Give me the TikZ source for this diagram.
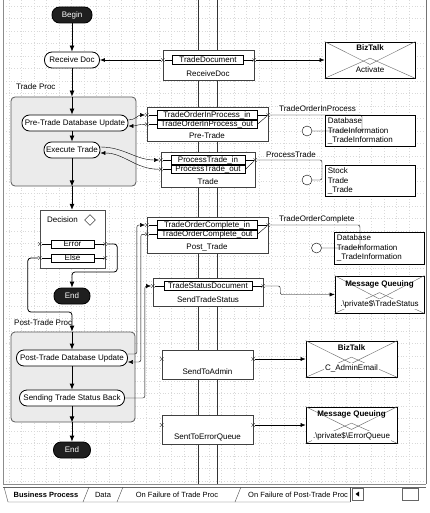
\documentclass[tikz,border=0pt]{standalone}
\usepackage{fontspec}
\setmainfont{Liberation Sans}
\usetikzlibrary{arrows.meta,shapes.geometric,shapes.misc,calc}
\newcommand{\dfont}{\fontsize{8}{9.5}\selectfont}
\newcommand{\tabfont}{\fontsize{7.5}{9}\selectfont}
\tikzset{
  act/.style={draw,thick,rounded corners=7.5pt,fill=white,minimum height=16pt,inner sep=0pt},
  term/.style={act,fill=black!88,text=white},
  grp/.style={draw=black!65,fill=black!8,rounded corners=4pt,thick,inner sep=0pt},
  shapebox/.style={draw=black!75,fill=white,inner sep=0pt},
  portrow/.style={draw,thick,fill=white,inner sep=0pt,minimum height=8.5pt},
  caserow/.style={draw,fill=white,inner sep=0pt,minimum height=8pt},
  portx/.style={cross out,draw=black!80,inner sep=0pt,minimum size=3pt},
  flowarr/.style={thick,-{Latex[length=6pt,width=5pt]}},
  linkarr/.style={-{Latex[length=5pt,width=4pt]}},
  txt/.style={inner sep=0pt},
  envbox/.style={draw,thick,fill=white,inner sep=0pt},
  envline/.style={black!60},
  lolly/.style={circle,draw,fill=white,minimum size=10pt,inner sep=0pt},
  gridline/.style={black!15,dash pattern=on 0.8pt off 2pt},
}
\begin{document}
\begin{tikzpicture}[x=1pt,y=-1pt,font=\dfont]
\useasboundingbox (0,0) rectangle (430,513);
\foreach \gx in {9,21.5,...,420} \draw[gridline] (\gx,0) -- (\gx,484);
\foreach \gy in {6,18.5,...,484} \draw[gridline] (3,\gy) -- (426,\gy);
\draw[black!45] (3,0) -- (3,484) -- (426,484);
\draw[black!55,thick] (426,0) -- (426,484);
\draw[black!80] (198,0) -- (198,484);
\draw[black!80] (217,0) -- (217,484);

\node[term,minimum width=40pt] (begin) at (72,15) {Begin};
\node[act,minimum width=55pt] (recv) at (72,60) {Receive Doc};
\node[txt,anchor=west] (tradeLbl) at (16,87) {Trade Proc};
\node[grp,minimum width=125pt,minimum height=89pt] (tradeGrp) at (73.5,141.5) {};
\node[act,minimum width=106pt] (preDb) at (75,123) {Pre-Trade Database Update};
\node[act,minimum width=56pt] (exec) at (72,150) {Execute Trade};
\node[shapebox,draw=black!70,minimum width=65pt,minimum height=58pt] (dec) at (72.5,239) {};
\node[txt,anchor=west] (decLbl) at (47,220) {Decision};
\node[diamond,draw,inner sep=0pt,minimum size=11pt] (decDia) at (90,220) {};
\node[caserow,minimum width=43pt] (err) at (72.5,244) {Error};
\node[caserow,minimum width=43pt] (els) at (72.5,258) {Else};
\foreach \rw in {err,els} {
  \node[portx] (\rw L) at (dec.west |- \rw) {};
  \node[portx] (\rw R) at (dec.east |- \rw) {};
  \draw (\rw L) -- (\rw) -- (\rw R);
}
\node[term,minimum width=36pt] (end1) at (72,296) {End};
\node[txt,anchor=west] (postLbl) at (14,323) {Post-Trade Proc};
\node[grp,minimum width=124pt,minimum height=90pt] (postGrp) at (73,377) {};
\node[act,minimum width=111pt] (postDb) at (72,358) {Post-Trade Database Update};
\node[act,minimum width=105pt] (sending) at (72,398) {Sending Trade Status Back};
\node[term,minimum width=37pt] (end2) at (72,450) {End};

\draw[flowarr] (begin) -- (recv);
\draw[flowarr] (recv) -- (recv |- tradeGrp.north);
\draw[flowarr] (recv |- tradeGrp.north) -- (recv |- preDb.north);
\draw[flowarr] (exec |- preDb.south) -- (exec);
\draw[flowarr] (exec) -- (exec |- tradeGrp.south);
\draw[flowarr] (exec |- tradeGrp.south) -- (exec |- dec.north);
\draw[flowarr,rounded corners=3pt] (errR) -- ++(12,0) -- ++(0,28) -| (end1);
\draw[flowarr,rounded corners=3pt] (elsL) -- ++(-12,0) -- ++(0,54) -| (end1 |- postGrp.north);
\draw[flowarr] (end1 |- postGrp.north) -- (postDb);
\draw[flowarr] (postDb) -- (sending);
\draw[flowarr] (sending) -- (sending |- postGrp.south);
\draw[flowarr] (sending |- postGrp.south) -- (end2);

\node[shapebox,minimum width=91pt,minimum height=30pt] (recvShp) at (208.5,65) {};
\node[portrow,minimum width=71pt] (tdoc) at (208,60) {TradeDocument};
\node[txt] (recvShpLbl) at (208,74) {ReceiveDoc};
\node[portx] (tdocL) at (recvShp.west |- tdoc) {};
\node[portx] (tdocR) at (recvShp.east |- tdoc) {};
\draw (tdocL) -- (tdoc) -- (tdocR);

\node[shapebox,minimum width=121pt,minimum height=34pt] (preShp) at (207.5,124) {};
\node[portrow,minimum width=100pt] (topIn) at (207,115) {TradeOrderInProcess\_in};
\node[portrow,minimum width=100pt,anchor=north] (topOut) at (topIn.south) {TradeOrderInProcess\_out};
\node[txt] (preShpLbl) at (207,136) {Pre-Trade};
\node[portx] (topInL) at (preShp.west |- topIn) {};
\node[portx] (topOutL) at (preShp.west |- topOut) {};
\node[portx] (topR) at (preShp.east |- topIn) {};
\draw (topInL) -- (topIn) -- (topR);
\draw (topOutL) -- (topOut);
\draw (topOut.east) -- (topR);

\node[shapebox,minimum width=94pt,minimum height=35pt] (tradeShp) at (208,169.5) {};
\node[portrow,minimum width=74pt] (ptIn) at (208,160) {ProcessTrade\_in};
\node[portrow,minimum width=74pt,anchor=north] (ptOut) at (ptIn.south) {ProcessTrade\_out};
\node[txt] (tradeShpLbl) at (208,182) {Trade};
\node[portx] (ptInL) at (tradeShp.west |- ptIn) {};
\node[portx] (ptOutL) at (tradeShp.west |- ptOut) {};
\node[portx] (ptR) at (tradeShp.east |- ptIn) {};
\draw (ptInL) -- (ptIn) -- (ptR);
\draw (ptOutL) -- (ptOut);
\draw (ptOut.east) -- (ptR);

\node[shapebox,minimum width=121pt,minimum height=36pt] (postShp) at (207.5,235) {};
\node[portrow,minimum width=100pt] (tocIn) at (207,225) {TradeOrderComplete\_in};
\node[portrow,minimum width=100pt,anchor=north] (tocOut) at (tocIn.south) {TradeOrderComplete\_out};
\node[txt] (postShpLbl) at (207,247) {Post\_Trade};
\node[portx] (tocInL) at (postShp.west |- tocIn) {};
\node[portx] (tocOutL) at (postShp.west |- tocOut) {};
\node[portx] (tocR) at (postShp.east |- tocIn) {};
\draw (tocInL) -- (tocIn) -- (tocR);
\draw (tocOutL) -- (tocOut);
\draw (tocOut.east) -- (tocR);

\node[shapebox,minimum width=110pt,minimum height=28pt] (sendShp) at (208,292) {};
\node[portrow,minimum width=88pt,minimum height=9pt] (tsDoc) at (208,286) {TradeStatusDocument};
\node[txt] (sendShpLbl) at (208,300) {SendTradeStatus};
\node[portx] (tsL) at (sendShp.west |- tsDoc) {};
\node[portx] (tsR) at (sendShp.east |- tsDoc) {};
\draw (tsL) -- (tsDoc) -- (tsR);

\node[shapebox,minimum width=91pt,minimum height=29pt] (adminShp) at (207.5,364.5) {};
\node[txt] (adminShpLbl) at (207.5,372) {SendToAdmin};
\node[portx] (adminL) at ([yshift=5.5pt]adminShp.west) {};
\node[portx] (adminR) at ([yshift=5.5pt]adminShp.east) {};

\node[shapebox,minimum width=91pt,minimum height=29pt] (errShp) at (207.5,429.5) {};
\node[txt] (errShpLbl) at (207.5,437) {SentToErrorQueue};
\node[portx] (errShpL) at ([yshift=4.5pt]errShp.west) {};
\node[portx] (errShpR) at ([yshift=4.5pt]errShp.east) {};

\draw[linkarr,thick] (tdocL) -- (recv);
\draw[linkarr] ([yshift=3pt]preDb.east) to[out=0,in=180] (topInL);
\draw[linkarr] (topOutL) to[out=180,in=0] ([yshift=-3pt]preDb.east);
\draw[linkarr] ([yshift=3pt]exec.east) to[out=0,in=180] (ptInL);
\draw[linkarr] (ptOutL) to[out=180,in=0] ([yshift=-3pt]exec.east);
\draw[linkarr,rounded corners=2pt] ([yshift=4pt]postDb.east) -- ++(9,0) |- (tocInL);
\draw[linkarr,rounded corners=2pt] (tocOutL) -- ++(-6,0) |- ([yshift=-4pt]postDb.east);
\draw[linkarr,rounded corners=2pt] (sending.east) -- ++(20,0) |- (tsL);

\node[envbox,minimum width=90pt,minimum height=36pt] (bzA) at (370,60) {};
\node[envbox,minimum width=89pt,minimum height=37pt] (mqA) at (379.5,294.5) {};
\node[envbox,minimum width=91pt,minimum height=36pt] (bzB) at (351.5,359) {};
\node[envbox,minimum width=91pt,minimum height=36pt] (mqB) at (351.5,425) {};
\foreach \b in {bzA,mqA,bzB,mqB} {
  \draw[envline] (\b.north west) -- ($(\b.north)!0.62!(\b.south)$) -- (\b.north east);
  \draw[envline] (\b.south west) -- ($(\b.north)!0.45!(\b.south)$) -- (\b.south east);
}
\node[txt,font=\dfont\bfseries] (bzATop) at (370,48) {BizTalk};
\node[txt,fill=white,inner sep=1pt] (bzAOp) at (370,70) {Activate};
\node[txt,font=\dfont\bfseries] (mqATop) at (379.5,284) {Message Queuing};
\node[txt,fill=white,inner sep=1pt] (mqAOp) at (379.5,304) {.\textbackslash private\$\textbackslash TradeStatus};
\node[txt,font=\dfont\bfseries] (bzBTop) at (351.5,348) {BizTalk};
\node[txt,fill=white,inner sep=1pt] (bzBOp) at (351.5,368) {C\_AdminEmail};
\node[txt,font=\dfont\bfseries] (mqBTop) at (351.5,414) {Message Queuing};
\node[txt,fill=white,inner sep=1pt] (mqBOp) at (351.5,436) {.\textbackslash private\$\textbackslash ErrorQueue};

\node[shapebox,draw=black,thick,minimum width=90pt,minimum height=31pt] (dbA) at (370,130.5) {};
\node[txt,anchor=north west,align=left] (dbATxt) at ([xshift=3pt,yshift=-3pt]dbA.north west) {Database\\TradeInformation\\\_TradeInformation};
\node[lolly] (dbAPin) at (307,131) {};
\node[shapebox,draw=black,thick,minimum width=90pt,minimum height=31pt] (stk) at (370,180.5) {};
\node[txt,anchor=north west,align=left] (stkTxt) at ([xshift=3pt,yshift=-3pt]stk.north west) {Stock\\Trade\\\_Trade};
\node[lolly] (stkPin) at (307,180) {};
\node[shapebox,draw=black,thick,minimum width=90pt,minimum height=32pt] (dbB) at (379,248) {};
\node[txt,anchor=north west,align=left] (dbBTxt) at ([xshift=3pt,yshift=-3pt]dbB.north west) {Database\\TradeInformation\\\_TradeInformation};
\node[lolly] (dbBPin) at (316.5,248) {};

\node[txt,anchor=south west] (topLbl) at (279,112) {TradeOrderInProcess};
\draw[rounded corners=2pt] (topR) -- (362,115) -- (362,131) -- (dbAPin);
\node[txt,anchor=south west] (ptLbl) at (266,158) {ProcessTrade};
\draw[rounded corners=2pt] (ptR) -- (322,160) -- (322,180) -- (stkPin);
\node[txt,anchor=south west] (tocLbl) at (279,223) {TradeOrderComplete};
\draw[rounded corners=2pt] (tocR) -- (360,225) -- (360,248) -- (dbBPin);

\draw[linkarr] (tdocR) -- (tdocR -| bzA.west);
\draw[linkarr,rounded corners=2pt] (tsR) -- ++(17,0) |- (mqA.west);
\draw[linkarr] (adminR) -- (adminR -| bzB.west);
\draw[linkarr] (errShpR) -- (errShpR -| mqB.west);

\draw[black!60] (3,487) -- (426,487);
\draw[black!70] (4,487) -- (8,502) -- (350,502);
\foreach \sx in {86,120,238} \draw[black!70] (\sx-3,502) -- (\sx+3,487);
\draw[black!70] (350,487) -- (350,502);
\node[txt,font=\tabfont\bfseries] (tabBp) at (46,495) {Business Process};
\node[txt,font=\tabfont] (tabData) at (103,495) {Data};
\node[txt,font=\tabfont] (tabTrade) at (177,495) {On Failure of Trade Proc};
\begin{scope}
\clip (241,487) rectangle (349,502);
\node[txt,font=\tabfont,anchor=west] (tabPost) at (248,495) {On Failure of Post-Trade Proc};
\end{scope}
\node[draw=black!60,minimum width=11pt,minimum height=12pt,inner sep=0pt] (tabScroll) at (357.5,494) {};
\fill (355.5,494) -- (359,491.5) -- (359,496.5) -- cycle;
\node[draw=black!60,minimum width=16pt,minimum height=12pt,inner sep=0pt] (tabThumb) at (410,494) {};
\end{tikzpicture}
\end{document}
